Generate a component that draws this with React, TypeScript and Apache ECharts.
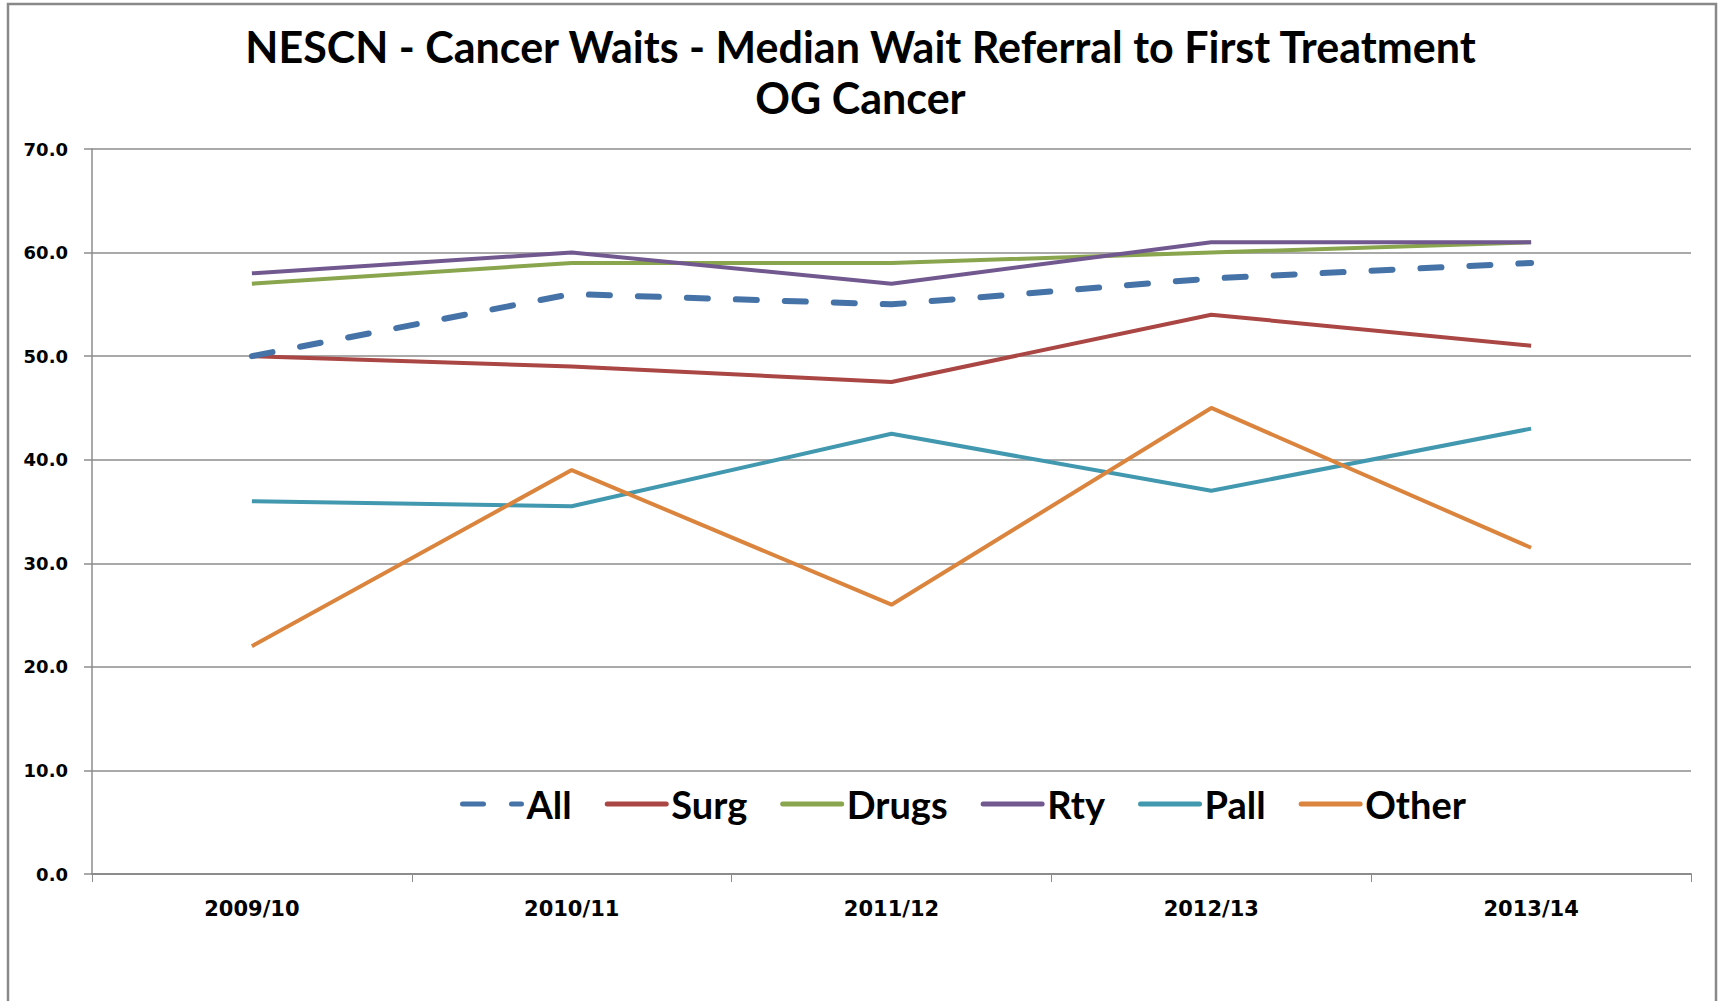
import React, { useEffect, useRef } from "react";
import * as echarts from "echarts";

const categories = ["2009/10", "2010/11", "2011/12", "2012/13", "2013/14"];
const allValues = [50, 56, 55, 57.5, 59];
const surgValues = [50, 49, 47.5, 54, 51];
const drugsValues = [57, 59, 59, 60, 61];
const rtyValues = [58, 60, 57, 61, 61];
const pallValues = [36, 35.5, 42.5, 37, 43];
const otherValues = [22, 39, 26, 45, 31.5];

const titleLines = [
  "NESCN - Cancer Waits - Median Wait Referral to First Treatment",
  "OG Cancer",
];

export default function App() {
  const ref = useRef<HTMLDivElement>(null);
  useEffect(() => {
    if (!ref.current) return;
    const chart = echarts.init(ref.current, null, { renderer: "svg" });
    const mk = (name: string, data: number[], color: string, dashed = false) => ({
      name,
      type: "line",
      data,
      symbol: "none",
      itemStyle: { color },
      lineStyle: dashed
        ? { color, width: 6, type: [21, 28], cap: "round" }
        : { color, width: 4 },
      z: dashed ? 3 : 2,
    });
    chart.setOption({
      animation: false,
      backgroundColor: "#ffffff",
      title: {
        text: titleLines.join("\n"),
        left: "center",
        top: 16,
        textStyle: {
          fontFamily: "Lato",
          fontWeight: "bold",
          fontSize: 43,
          lineHeight: 51,
          color: "#000000",
        },
      },
      graphic: [
        {
          type: "rect",
          shape: { x: 8, y: 4, width: 1708, height: 1010 },
          style: { fill: "none", stroke: "#898989", lineWidth: 2.5 },
          silent: true,
        },
      ],
      legend: {
        left: 455,
        top: 780,
        itemWidth: 59,
        itemHeight: 14,
        itemGap: 33,
        itemStyle: { opacity: 0 },
        lineStyle: { width: 5, cap: "round" },
        textStyle: {
          fontFamily: "Lato",
          fontWeight: "bold",
          fontSize: 38,
          color: "#000000",
        },
        data: ["All", "Surg", "Drugs", "Rty", "Pall", "Other"],
      },
      grid: { left: 92, right: 30, top: 149, bottom: 127, containLabel: false },
      xAxis: {
        type: "category",
        data: categories,
        boundaryGap: true,
        axisLine: { show: true, lineStyle: { color: "#8c8c8c", width: 2 } },
        axisTick: { show: true, length: 8, lineStyle: { color: "#8c8c8c", width: 1 } },
        axisLabel: {
          margin: 24,
          fontFamily: "DejaVu Sans",
          fontWeight: "bold",
          fontSize: 21,
          color: "#000000",
        },
      },
      yAxis: {
        type: "value",
        min: 0,
        max: 70,
        interval: 10,
        axisLine: { show: true, lineStyle: { color: "#8c8c8c", width: 1.5 } },
        axisTick: { show: true, length: 8, lineStyle: { color: "#8c8c8c", width: 1.5 } },
        splitLine: { show: true, lineStyle: { color: "#8c8c8c", width: 1.5 } },
        axisLabel: {
          margin: 24,
          formatter: (v: number) => v.toFixed(1),
          fontFamily: "DejaVu Sans",
          fontWeight: "bold",
          fontSize: 18,
          color: "#000000",
        },
      },
      series: [
        mk("All", allValues, "#4572A7", true),
        mk("Surg", surgValues, "#AA4643"),
        mk("Drugs", drugsValues, "#89A54E"),
        mk("Rty", rtyValues, "#71588F"),
        mk("Pall", pallValues, "#4198AF"),
        mk("Other", otherValues, "#DB843D"),
      ],
    });
    return () => chart.dispose();
  }, []);
  return (
    <div
      ref={ref}
      style={{ position: "fixed", left: 0, top: 0, width: 1721, height: 1001 }}
    />
  );
}
